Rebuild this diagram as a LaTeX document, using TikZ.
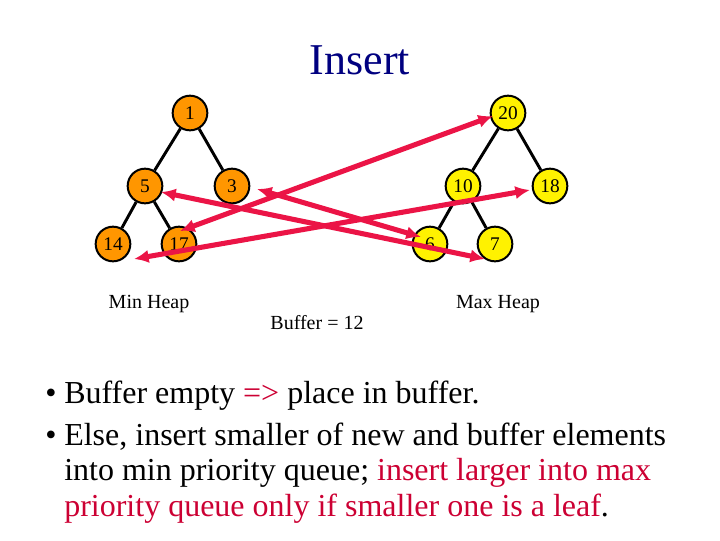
\documentclass[tikz,border=0pt]{standalone}
\usepackage{fontspec}
\setmainfont{Liberation Serif}
\begin{document}
\begin{tikzpicture}[x=0.75pt,y=-0.75pt,
  hn/.style={circle,draw=black,line width=1.5pt,minimum size=26pt,inner sep=0pt,font=\fontsize{14.5}{14.5}\selectfont},
  mn/.style={hn,fill={rgb,255:red,255;green,150;blue,0}},
  xn/.style={hn,fill=yellow},
  ed/.style={black,line width=2.2pt},
  ar/.style={draw={rgb,255:red,235;green,20;blue,70},line width=3.8pt,<->,>={Latex[length=11pt,width=10pt]}},
  lab/.style={font=\fontsize{15}{15}\selectfont},
  txt/.style={anchor=base west,inner sep=0pt,font=\fontsize{24}{24}\selectfont}]
\usetikzlibrary{arrows.meta}
\definecolor{rt}{RGB}{204,0,51}
\definecolor{nv}{RGB}{0,0,128}
\useasboundingbox (0,0) rectangle (720,540);
\node[font=\fontsize{33}{33}\selectfont,text=nv] (t) at (360,60) {Insert};
\node[mn] (n1) at (190,113) {1};
\node[mn] (n5) at (145,186) {5};
\node[mn] (n3) at (232,186) {3};
\node[mn] (n14) at (113,244) {14};
\node[mn] (n17) at (179,244) {17};
\node[xn] (n20) at (508,113) {20};
\node[xn] (n10) at (463,186) {10};
\node[xn] (n18) at (550,186) {18};
\node[xn] (n6) at (430,244) {6};
\node[xn] (n7) at (495,244) {7};
\draw[ed] (n1)--(n5) (n1)--(n3) (n5)--(n14) (n5)--(n17);
\draw[ed] (n20)--(n10) (n20)--(n18) (n10)--(n6) (n10)--(n7);
\coordinate (a1) at (180,231); \coordinate (a2) at (493,116);
\coordinate (b1) at (134,259); \coordinate (b2) at (530,190);
\coordinate (c1) at (161,192); \coordinate (c2) at (485,259);
\coordinate (d1) at (257,189); \coordinate (d2) at (421,237);
\draw[ar] (a1)--(a2);
\draw[ar] (b1)--(b2);
\draw[ar] (c1)--(c2);
\draw[ar] (d1)--(d2);
\node[lab] (mh) at (149,304) {Min Heap};
\node[lab] (xh) at (498,304) {Max Heap};
\node[lab] (bf) at (317,323) {Buffer = 12};
\node[txt] (b1t) at (45,403) {\textbullet};
\node[txt] (l1) at (64,403) {Buffer empty \textcolor{rt}{=>} place in buffer.};
\node[txt] (b2t) at (45,445) {\textbullet};
\node[txt] (l2) at (64,445) {Else, insert smaller of new and buffer elements};
\node[txt] (l3) at (64,480) {into min priority queue; \textcolor{rt}{insert larger into max}};
\node[txt] (l4) at (64,516) {\textcolor{rt}{priority queue only if smaller one is a leaf}.};
\end{tikzpicture}
\end{document}
